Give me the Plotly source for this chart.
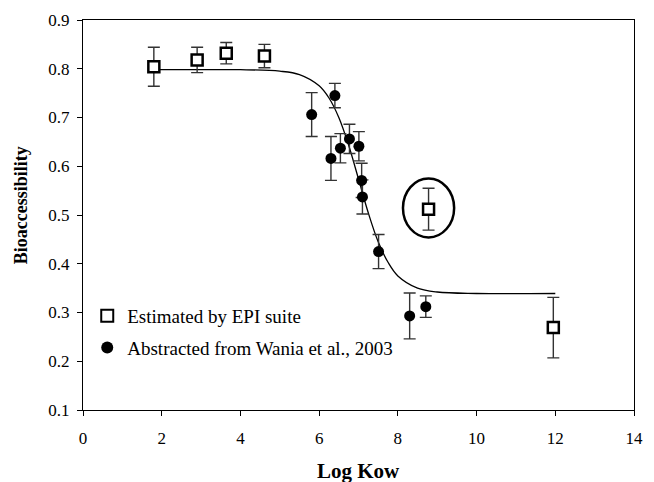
import plotly.graph_objects as go

# Estimated by EPI suite (open squares)
epi_x = [1.80, 2.90, 3.64, 4.61, 8.78, 11.95]
epi_y = [0.804, 0.818, 0.832, 0.826, 0.512, 0.269]
epi_err = [0.040, 0.026, 0.022, 0.024, 0.043, 0.062]

# Abstracted from Wania et al., 2003 (filled circles)
wania_x = [5.81, 6.30, 6.40, 6.54, 6.77, 7.01, 7.08, 7.10, 7.51, 8.30, 8.71]
wania_y = [0.706, 0.616, 0.745, 0.637, 0.656, 0.641, 0.571, 0.537, 0.425, 0.293, 0.312]
wania_err = [0.045, 0.045, 0.025, 0.030, 0.030, 0.030, 0.035, 0.035, 0.035, 0.047, 0.022]

# Fitted sigmoid curve
fit_x = [1.8, 3.0, 4.0, 5.0, 5.5, 6.0, 6.25, 6.5, 6.75, 7.0, 7.25, 7.5, 7.75, 8.0, 8.5, 9.0, 10.0, 12.0]
fit_y = [0.798, 0.798, 0.798, 0.795, 0.788, 0.765, 0.740, 0.700, 0.643, 0.574, 0.504, 0.445, 0.403, 0.375, 0.350, 0.342, 0.339, 0.339]

x_ticks = [0, 2, 4, 6, 8, 10, 12, 14]
y_ticks = [0.1, 0.2, 0.3, 0.4, 0.5, 0.6, 0.7, 0.8, 0.9]

FONT = "Liberation Serif"
ERRC = "#333333"

fig = go.Figure()

fig.add_trace(go.Scatter(
    x=fit_x, y=fit_y, mode="lines", line=dict(color="black", width=1.3, shape="spline"),
    showlegend=False, hoverinfo="skip"))

fig.add_trace(go.Scatter(
    x=epi_x, y=epi_y, mode="markers", name="Estimated by EPI suite",
    legendgroup="a",
    marker=dict(symbol="square", size=11, color="white", line=dict(color="black", width=2.5)),
    error_y=dict(type="data", array=epi_err, visible=True, color=ERRC, thickness=1.4, width=6)))

fig.add_trace(go.Scatter(
    x=wania_x, y=wania_y, mode="markers", name="Abstracted from Wania et al., 2003",
    legendgroup="b",
    marker=dict(symbol="circle", size=11, color="black", line=dict(color="black", width=0)),
    error_y=dict(type="data", array=wania_err, visible=True, color=ERRC, thickness=1.4, width=6)))

# ellipse around the outlying EPI point
fig.add_shape(type="circle", xref="x", yref="y",
              x0=epi_x[4] - 0.65, x1=epi_x[4] + 0.65,
              y0=epi_y[4] - 0.058, y1=epi_y[4] + 0.063,
              line=dict(color="black", width=2.5))

fig.add_annotation(text="<b>Log Kow</b>", xref="paper", yref="paper", x=0.5, y=-0.1556,
                   xanchor="center", yanchor="middle", showarrow=False,
                   font=dict(family=FONT, size=21, color="black"))
fig.add_annotation(text="<b>Bioaccessibility</b>", xref="paper", yref="paper", x=-0.112, y=0.5255,
                   xanchor="center", yanchor="middle", showarrow=False, textangle=-90,
                   font=dict(family=FONT, size=18, color="black"))

fig.update_layout(
    width=654, height=482, autosize=False,
    margin=dict(l=83, r=11, t=18, b=72, pad=0),
    paper_bgcolor="white", plot_bgcolor="white",
    font=dict(family=FONT, color="black"),
    legend=dict(x=0.0077, y=0.29, xanchor="left", yanchor="top",
                font=dict(family=FONT, size=19, color="black"),
                bgcolor="rgba(0,0,0,0)", traceorder="grouped", tracegroupgap=4,
                itemsizing="constant"),
    xaxis=dict(range=[0, 14], tickvals=x_ticks, ticks="outside", ticklen=5, tickcolor="black",
               showline=True, linecolor="black", linewidth=1, mirror=True,
               showgrid=False, zeroline=False, ticklabelstandoff=8,
               tickfont=dict(family=FONT, size=17, color="black")),
    yaxis=dict(range=[0.1, 0.9], tickvals=y_ticks, tickformat=".1f", ticks="outside", ticklen=5,
               tickcolor="black", showline=True, linecolor="black", linewidth=1, mirror=True,
               showgrid=False, zeroline=False, ticklabelstandoff=4,
               tickfont=dict(family=FONT, size=17, color="black")),
)

fig.write_html("out.html")
